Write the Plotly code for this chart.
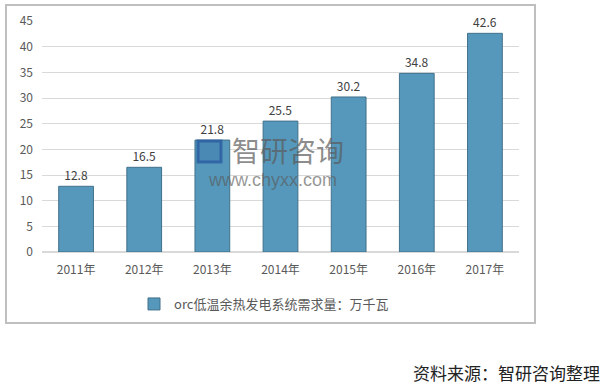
import plotly.graph_objects as go

years = ["2011年", "2012年", "2013年", "2014年", "2015年", "2016年", "2017年"]
demand = [12.8, 16.5, 21.8, 25.5, 30.2, 34.8, 42.6]
series_name = "orc低温余热发电系统需求量：万千瓦"
y_ticks = [0, 5, 10, 15, 20, 25, 30, 35, 40, 45]
source_text = "资料来源：智研咨询整理"

W, H = 608, 389
L, R, T, B = 42, 519, 21, 252

def px_x(p):
    return (p - L) / (R - L)

def px_y(p):
    return (B - p) / (B - T)

font_family = "Noto Sans CJK SC, Microsoft YaHei, sans-serif"

fig = go.Figure()
fig.add_trace(go.Bar(
    x=years, y=demand, name=series_name,
    marker=dict(color="#5598bb", line=dict(color="#41718a", width=1)),
    width=0.51,
    text=[f"{v:.1f}" for v in demand], textposition="outside",
    textfont=dict(size=12, color="#404040"),
    cliponaxis=False,
))

fig.update_layout(
    width=W, height=H,
    margin=dict(l=L, r=W - R, t=T, b=H - B, autoexpand=False),
    paper_bgcolor="white", plot_bgcolor="white",
    font=dict(family=font_family, size=12, color="#595959"),
    showlegend=True,
    legend=dict(orientation="h", x=px_x(264), xanchor="center", y=px_y(289), yanchor="top",
                font=dict(size=13, color="#595959"), itemwidth=30),
    xaxis=dict(showgrid=False, showline=False, ticks="", ticklabelstandoff=9,
               tickfont=dict(size=12, color="#595959")),
    yaxis=dict(range=[0, 45], tickvals=y_ticks, showgrid=True, gridcolor="#d9d9d9", gridwidth=1,
               zeroline=True, zerolinecolor="#d9d9d9", showline=False, ticks="",
               ticklabelstandoff=8, tickfont=dict(size=12, color="#595959")),
    bargap=0.49,
)

# outer frame
fig.add_shape(type="rect", xref="paper", yref="paper",
              x0=px_x(6), x1=px_x(535), y0=px_y(323), y1=px_y(5),
              line=dict(color="#bfbfbf", width=2), layer="below")

# watermark
fig.add_annotation(xref="paper", yref="paper", x=px_x(288), y=px_y(150), text="智研咨询",
                   xanchor="center", yanchor="middle",
                   showarrow=False, font=dict(size=28, color="rgba(90,90,90,0.7)"))
fig.add_annotation(xref="paper", yref="paper", x=px_x(272), y=px_y(180), text="www.chyxx.com",
                   xanchor="center", yanchor="middle", showarrow=False,
                   font=dict(size=18, family="Liberation Sans, Arial, sans-serif",
                             color="rgba(90,90,90,0.65)"))
fig.add_shape(type="rect", xref="paper", yref="paper",
              x0=px_x(198), x1=px_x(221), y0=px_y(162), y1=px_y(141),
              line=dict(color="rgba(40,90,160,0.75)", width=3), fillcolor="rgba(40,90,160,0.25)")

# source
fig.add_annotation(xref="paper", yref="paper", x=px_x(602), y=px_y(372),
                   xanchor="right", yanchor="middle",
                   text=source_text, showarrow=False, font=dict(size=17, color="#222222"))

fig.write_html("out.html", config={"displayModeBar": False},
               post_script="document.body.style.margin='0';document.body.style.overflow='hidden';")
